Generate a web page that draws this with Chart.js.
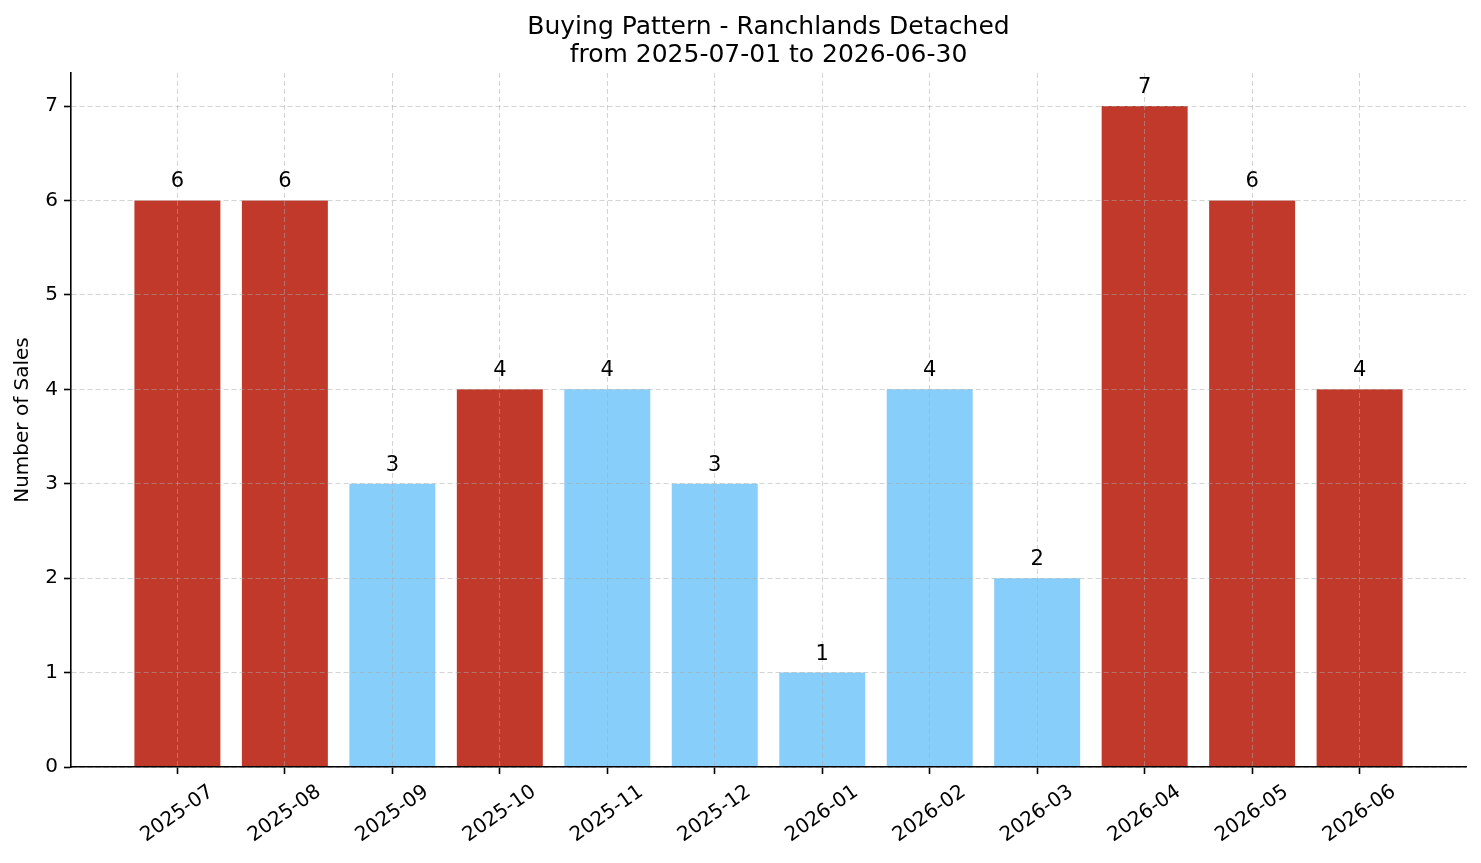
<!DOCTYPE html>
<html>
<head>
<meta charset="utf-8">
<script src="https://cdn.jsdelivr.net/npm/chart.js@4"></script>
<style>
  html, body { margin: 0; padding: 0; background: #fff; }
  #wrap { width: 1481px; height: 863px; position: relative; }
</style>
</head>
<body>
<div id="wrap"><canvas id="buyingChart"></canvas></div>
<script>
// Buying pattern data
const months = ["2025-07", "2025-08", "2025-09", "2025-10", "2025-11", "2025-12",
                "2026-01", "2026-02", "2026-03", "2026-04", "2026-05", "2026-06"];
const sales = [6, 6, 3, 4, 4, 3, 1, 4, 2, 7, 6, 4];
const hot = [true, true, false, true, false, false, false, false, false, true, true, true];
const yTicks = [0, 1, 2, 3, 4, 5, 6, 7];

const RED = "#c0392b";
const BLUE = "#87cefa";
const GRID = "rgba(170, 170, 170, 0.5)";
const FONT = "'DejaVu Sans', sans-serif";

// value labels above each bar
const barLabels = {
    id: "barLabels",
    afterDraw(chart) {
        const ctx = chart.ctx;
        const meta = chart.getDatasetMeta(0);
        ctx.save();
        ctx.font = "21px " + FONT;
        ctx.fillStyle = "#000";
        ctx.textAlign = "center";
        ctx.textBaseline = "bottom";
        meta.data.forEach((bar, i) => {
            ctx.fillText(String(sales[i]), bar.x, bar.y - 8);
        });
        ctx.restore();
    },
};

const ctx = document.getElementById("buyingChart").getContext("2d");
new Chart(ctx, {
    type: "bar",
    data: {
        datasets: [
            {
                label: "Sales",
                data: sales.map((v, i) => ({ x: i, y: v })),
                backgroundColor: hot.map((h) => (h ? RED : BLUE)),
                borderWidth: 0,
                barPercentage: 0.8,
                categoryPercentage: 1,
            },
        ],
    },
    options: {
        responsive: true,
        maintainAspectRatio: false,
        animation: false,
        layout: { padding: { right: 15, left: 0, top: 0, bottom: 0 } },
        plugins: {
            legend: { display: false },
            tooltip: { enabled: false },
            title: {
                display: true,
                fullSize: false,
                text: ["Buying Pattern - Ranchlands Detached", "from 2025-07-01 to 2026-06-30"],
                color: "#000",
                font: { family: FONT, size: 25, weight: "normal", lineHeight: 1.12 },
                padding: { top: 13, bottom: 4 },
            },
        },
        scales: {
            x: {
                type: "linear",
                min: -0.99,
                max: 11.99,
                offset: false,
                afterBuildTicks: (scale) => {
                    scale.ticks = months.map((m, i) => ({ value: i }));
                },
                afterFit: (scale) => {
                    scale.height = 96;
                },
                ticks: {
                    callback: (v) => months[v],
                    color: "#000",
                    font: { family: FONT, size: 20 },
                    minRotation: 35,
                    maxRotation: 35,
                    autoSkip: false,
                    padding: 6,
                    labelOffset: 34,
                },
                grid: {
                    z: 1,
                    offset: false,
                    color: GRID,
                    lineWidth: 1,
                    borderDash: [5, 3],
                    tickColor: "#000",
                    tickLength: 7,
                    tickWidth: 1.6,
                },
                border: { display: true, z: 2, color: "#000", width: 1.6, dash: [5, 3] },
            },
            y: {
                min: 0,
                max: 7.35,
                afterBuildTicks: (scale) => {
                    scale.ticks = yTicks.map((v) => ({ value: v }));
                },
                afterFit: (scale) => {
                    scale.width = 71;
                },
                ticks: {
                    color: "#000",
                    font: { family: FONT, size: 20 },
                    padding: 6,
                },
                grid: {
                    z: 1,
                    color: GRID,
                    lineWidth: 1,
                    borderDash: [5, 3],
                    tickColor: "#000",
                    tickLength: 7,
                    tickWidth: 1.6,
                },
                border: { display: true, z: 2, color: "#000", width: 1.6, dash: [5, 3] },
                title: {
                    display: true,
                    text: "Number of Sales",
                    color: "#000",
                    font: { family: FONT, size: 20 },
                    padding: { top: 11, bottom: 0 },
                },
            },
        },
    },
    plugins: [barLabels],
});
</script>
</body>
</html>
